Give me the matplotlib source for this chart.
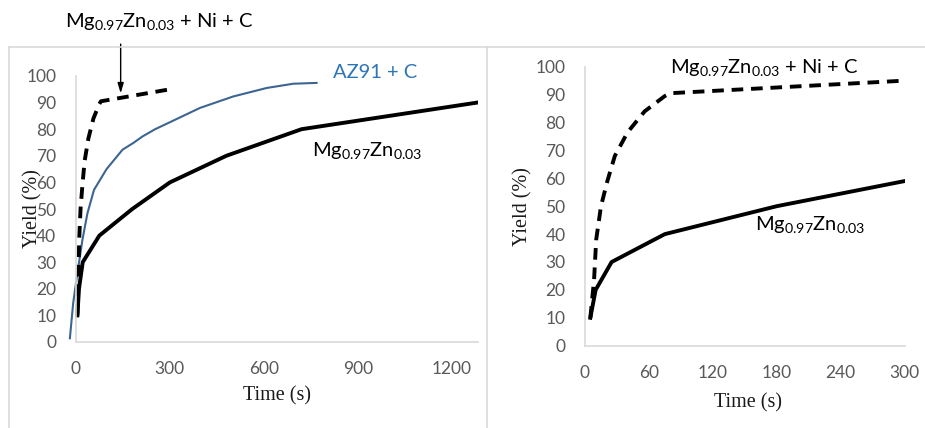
import matplotlib.pyplot as plt
from matplotlib.lines import Line2D

plt.rcParams["font.family"] = ["Lato", "DejaVu Sans"]
plt.rcParams["mathtext.fontset"] = "custom"
plt.rcParams["mathtext.rm"] = "Lato"

# Mg0.97Zn0.03 + Ni + C (dashed curve, same run in both panels)
ni_time = [5, 8.5, 10.5, 15, 21, 28, 40, 56, 75, 80, 300]
ni_yield = [10, 23.5, 38, 50, 59, 68, 76.5, 84, 89.5, 90.5, 95]

# Mg0.97Zn0.03, full run (left) and first 300 s (right)
mgzn_time_long = [5, 10, 22, 75, 180, 300, 480, 720, 1280]
mgzn_yield_long = [10, 20, 30, 40, 50, 60, 70, 80, 90]
mgzn_time_short = [5, 10, 25, 75, 180, 300]
mgzn_yield_short = [10, 20, 30, 40, 50, 59]

# AZ91 + C
az91_time = [-19, -8.5, 5, 21, 37, 58, 98, 149, 183, 213, 253, 289, 396, 502, 609, 694, 768]
az91_yield = [1.4, 14.6, 25.9, 38.4, 48.4, 57.2, 65, 72.3, 74.8, 77.3, 80, 82, 88, 92.3, 95.5, 97.1, 97.4]

yticks = list(range(0, 101, 10))
xticks_long = [0, 300, 600, 900, 1200]
xticks_short = [0, 60, 120, 180, 240, 300]

MGZN = r"Mg$_{\mathregular{0.97}}$Zn$_{\mathregular{0.03}}$"
NI_LABEL = MGZN + " + Ni + C"

W, H = 925, 428
fig = plt.figure(figsize=(W / 100, H / 100), dpi=100)


def px_box(x0, x1, y_top, y_bot):
    return [x0 / W, 1 - y_bot / H, (x1 - x0) / W, (y_bot - y_top) / H]


def px_text(x, y, s, **kw):
    fig.text(x / W, 1 - y / H, s, va="baseline", **kw)


def style(ax, xticks, xmin, xmax, ylab_x, xlab_y):
    ax.set_xlim(xmin, xmax)
    ax.set_ylim(0, 100)
    ax.set_xticks(xticks)
    ax.set_yticks(yticks)
    ax.patch.set_visible(False)
    for s in ("top", "right"):
        ax.spines[s].set_visible(False)
    for s in ("left", "bottom"):
        ax.spines[s].set_color("#d9d9d9")
        ax.spines[s].set_linewidth(1.2)
    ax.spines["left"].set_position(("data", 0))
    ax.spines["bottom"].set_bounds(0, xmax)
    ax.tick_params(length=0, pad=14, labelsize=12.5, labelcolor="#595959")
    ax.set_xlabel("Time (s)", fontfamily="Liberation Serif", fontsize=14.5, color="#1a1a1a")
    ax.set_ylabel("Yield (%)", fontfamily="Liberation Serif", fontsize=14.5, color="#1a1a1a")
    ax.xaxis.set_label_coords(0.51, xlab_y)
    ax.yaxis.set_label_coords(ylab_x, 0.5)


ax1 = fig.add_axes(px_box(68, 478, 76, 342))
ax2 = fig.add_axes(px_box(585, 904.5, 66.7, 345.7))

style(ax1, xticks_long, -25, 1283, -0.063, -0.165)
style(ax2, xticks_short, 0, 300, -0.165, -0.17)

dash = (0, (3, 2))

# left panel
ax1.plot(az91_time, az91_yield, color="#3d6591", lw=1.5)
ax1.plot(mgzn_time_long, mgzn_yield_long, color="black", lw=2.8)
ax1.plot(ni_time, ni_yield, color="black", lw=2.8, ls=dash)
ax1.annotate("", xy=(143, 93.5), xytext=(143, 112), annotation_clip=False,
             arrowprops=dict(arrowstyle="-|>,head_width=0.18,head_length=0.6",
                             color="black", lw=1, shrinkA=0, shrinkB=0))

# right panel
ax2.plot(mgzn_time_short, mgzn_yield_short, color="black", lw=2.8)
ax2.plot(ni_time, ni_yield, color="black", lw=2.8, ls=dash)

# series labels
px_text(65, 28, NI_LABEL, fontsize=14.5, color="black")
px_text(333, 78, "AZ91 + C", fontsize=14.5, color="#2e75b6")
px_text(312, 157, MGZN, fontsize=14.5, color="black")
px_text(670, 74, NI_LABEL, fontsize=14.5, color="black")
px_text(755, 231, MGZN, fontsize=14.5, color="black")

# chart-area frames
frame = dict(transform=fig.transFigure, color="#d9d9d9", lw=1.2)
fig.add_artist(Line2D([9 / W, 1], [1 - 47 / H, 1 - 47 / H], **frame))
fig.add_artist(Line2D([9 / W, 9 / W], [0, 1 - 47 / H], **frame))
fig.add_artist(Line2D([487 / W, 487 / W], [0, 1 - 47 / H], **frame))

fig.savefig("out.png", dpi=100)
